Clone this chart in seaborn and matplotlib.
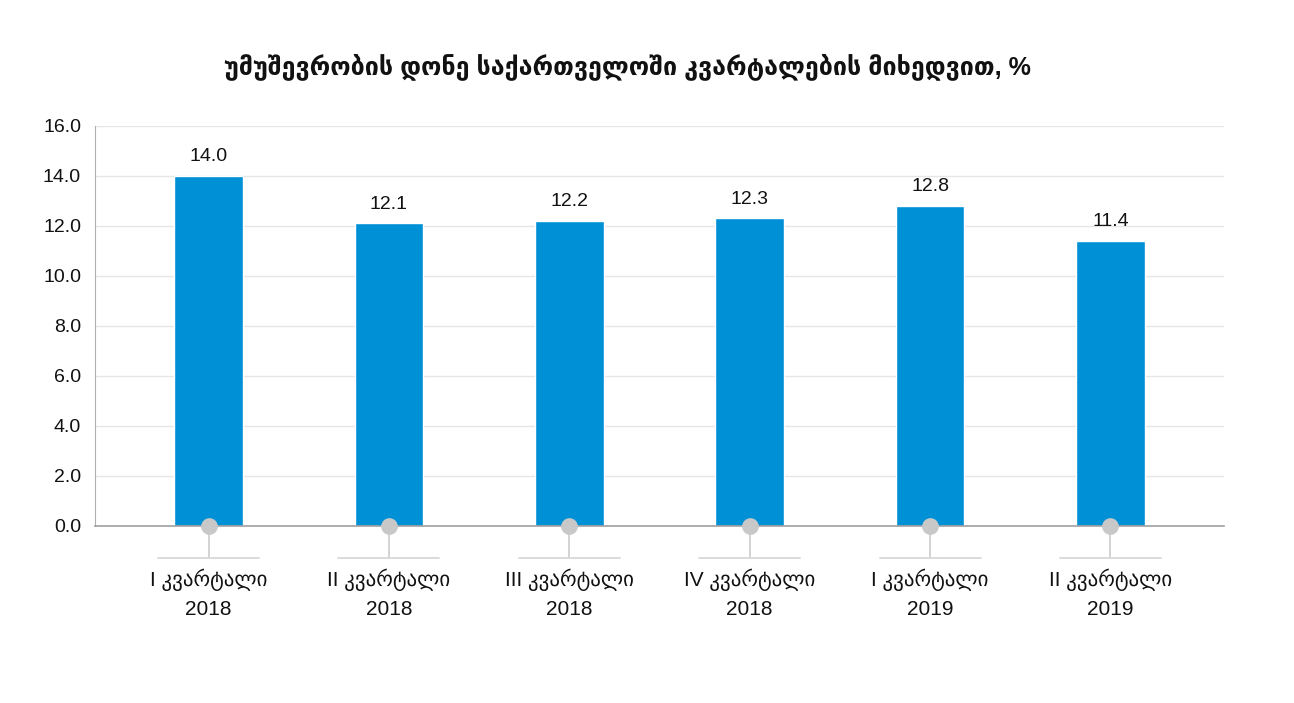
import numpy as np
import pandas as pd
import matplotlib
matplotlib.use("Agg")
import matplotlib.pyplot as plt
import matplotlib.transforms as mtransforms
import seaborn as sns

# data
quarters = ["I კვარტალი\n2018", "II კვარტალი\n2018", "III კვარტალი\n2018",
            "IV კვარტალი\n2018", "I კვარტალი\n2019", "II კვარტალი\n2019"]
rate = [14.0, 12.1, 12.2, 12.3, 12.8, 11.4]
yticks = [0, 2, 4, 6, 8, 10, 12, 14, 16]
title = "უმუშევრობის დონე საქართველოში კვარტალების მიხედვით, %"

df = pd.DataFrame({"quarter": quarters, "rate": rate})

sns.set_style("white")
plt.rcParams["font.family"] = ["Liberation Sans", "DejaVu Sans"]

fig = plt.figure(figsize=(12.94, 7.03), dpi=100)
ax = fig.add_axes([0.0734, 0.2518, 0.8726, 0.569])

sns.barplot(data=df, x="quarter", y="rate", color="#0090d5", saturation=1,
            width=0.38, ax=ax, zorder=2)

ax.set_ylim(0, 16)
ax.set_xlim(-0.63, len(quarters) - 0.37)
ax.set_yticks(yticks)
ax.set_yticklabels([f"{v:.1f}" for v in yticks], fontsize=14, color="#111111")
ax.yaxis.grid(True, color="#e6e6e6", lw=1, zorder=0)
ax.set_axisbelow(True)
ax.tick_params(axis="y", length=5, width=1, color="#b0b0b0", pad=5)
ax.tick_params(axis="x", length=0, pad=31)
ax.set_xticks(range(len(quarters)))
ax.set_xticklabels(quarters, fontsize=15, color="#111111", linespacing=1.6)
ax.set_xlabel("")
ax.set_ylabel("")
for s in ["top", "right"]:
    ax.spines[s].set_visible(False)
ax.spines["left"].set_color("#b0b0b0")
ax.spines["bottom"].set_color("#a0a0a0")
ax.spines["bottom"].set_linewidth(1.2)

# value labels
for i, v in enumerate(rate):
    ax.text(i, v + 0.42, f"{v:.1f}", ha="center", va="bottom", fontsize=14, color="#111111")

# lollipop style markers under each category
trans = mtransforms.blended_transform_factory(ax.transData, ax.transAxes)
for i in range(len(quarters)):
    ax.plot([i, i], [0, -0.08], transform=trans, color="#d0d0d0", lw=1.3, clip_on=False, zorder=1)
    ax.plot([i - 0.28, i + 0.28], [-0.08, -0.08], transform=trans, color="#d8d8d8", lw=1.3,
            clip_on=False, zorder=1)
    ax.plot(i, 0, "o", transform=trans, color="#c8c8c8", ms=11, mec="#c8c8c8", clip_on=False, zorder=5)

fig.text(0.485, 0.905, title, ha="center", va="center", fontsize=18, fontweight="bold", color="#111111")

fig.savefig("out.png", dpi=100)
